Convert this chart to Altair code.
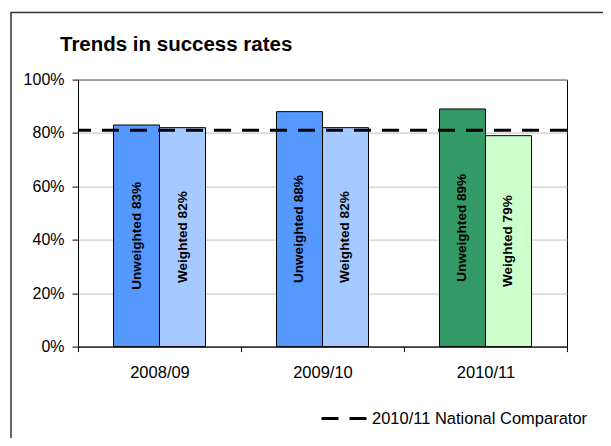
import altair as alt
import pandas as pd

title_text = "Trends in success rates"
years = ["2008/09", "2009/10", "2010/11"]
unweighted = [0.83, 0.88, 0.89]
weighted = [0.82, 0.82, 0.79]
unweighted_colors = ["#5599FF", "#5599FF", "#339966"]
weighted_colors = ["#A6CAFF", "#A6CAFF", "#CCFFCC"]
comparator_name = "2010/11 National Comparator"
comparator_value = 0.81

rows = []
for i, y in enumerate(years):
    rows.append({"year": y, "type": "Unweighted", "value": unweighted[i], "fill": unweighted_colors[i]})
    rows.append({"year": y, "type": "Weighted", "value": weighted[i], "fill": weighted_colors[i]})
df = pd.DataFrame(rows)
df["label"] = df["type"] + " " + (df["value"] * 100).round().astype(int).astype(str) + "%"
df["mid"] = df["value"] / 2

comp = pd.DataFrame({"series": [comparator_name], "value": [comparator_value]})

FONT = "Liberation Sans"

x_enc = alt.X("year:N", sort=years, title=None,
              scale=alt.Scale(paddingInner=0, paddingOuter=0),
              axis=alt.Axis(labelAngle=0, tickBand="extent", tickSize=5, tickColor="black",
                            domainColor="black", labelFontSize=16.5, labelColor="black",
                            labelPadding=13, grid=False))
xo_enc = alt.XOffset("type:N", sort=["Unweighted", "Weighted"],
                     scale=alt.Scale(paddingInner=0, paddingOuter=0.7717))
y_scale = alt.Scale(domain=[0, 1])

bars = alt.Chart(df).mark_bar(stroke="black", strokeWidth=1).encode(
    x=x_enc,
    xOffset=xo_enc,
    y=alt.Y("value:Q", scale=y_scale, title=None,
            axis=alt.Axis(format="%", values=[0, 0.2, 0.4, 0.6, 0.8, 1.0], grid=True,
                          gridColor="#C0C0C0", tickSize=6, tickColor="black",
                          domainColor="black", labelFontSize=16, labelColor="black",
                          labelPadding=8)),
    fill=alt.Fill("fill:N", scale=None, legend=None),
)

texts = alt.Chart(df).mark_text(angle=270, align="center", baseline="middle",
                                fontWeight="bold", fontSize=13.6, color="black").encode(
    x=alt.X("year:N", sort=years),
    xOffset=xo_enc,
    y=alt.Y("mid:Q", scale=y_scale),
    text="label:N",
)

rule = alt.Chart(comp).mark_rule(strokeDash=[17, 11], strokeWidth=3).encode(
    y=alt.Y("value:Q", scale=y_scale),
    color=alt.Color("series:N", scale=alt.Scale(range=["black"]),
                    legend=alt.Legend(title=None, orient="none", legendX=242, legendY=315,
                                      symbolType="stroke", symbolSize=2025,
                                      symbolStrokeWidth=3, symbolDash=[17, 11],
                                      symbolStrokeColor="black",
                                      labelFontSize=16.5, labelColor="black", labelFont=FONT,
                                      labelOffset=4, labelLimit=0, padding=0)),
)

title = alt.Chart(pd.DataFrame({"t": [title_text]})).mark_text(
    align="left", baseline="alphabetic", fontSize=20.5, fontWeight="bold", font=FONT,
    color="black").encode(
    x=alt.value(-18), y=alt.value(-29), text="t:N"
)

border = alt.Chart(pd.DataFrame({"a": [0]})).mark_rect(
    fillOpacity=0, stroke="#333333", strokeWidth=1.5).encode(
    x=alt.value(-67), x2=alt.value(700), y=alt.value(-67), y2=alt.value(500)
)

chart = alt.layer(bars, texts, rule, title, border).properties(
    width=489, height=267,
    autosize=alt.AutoSizeParams(type="none"),
    padding={"left": 70, "top": 71.6, "right": 36, "bottom": 91},
).configure(font=FONT).configure_view(stroke="black", strokeWidth=1)

chart.save("out.html", embed_options={"renderer": "svg", "actions": False})
